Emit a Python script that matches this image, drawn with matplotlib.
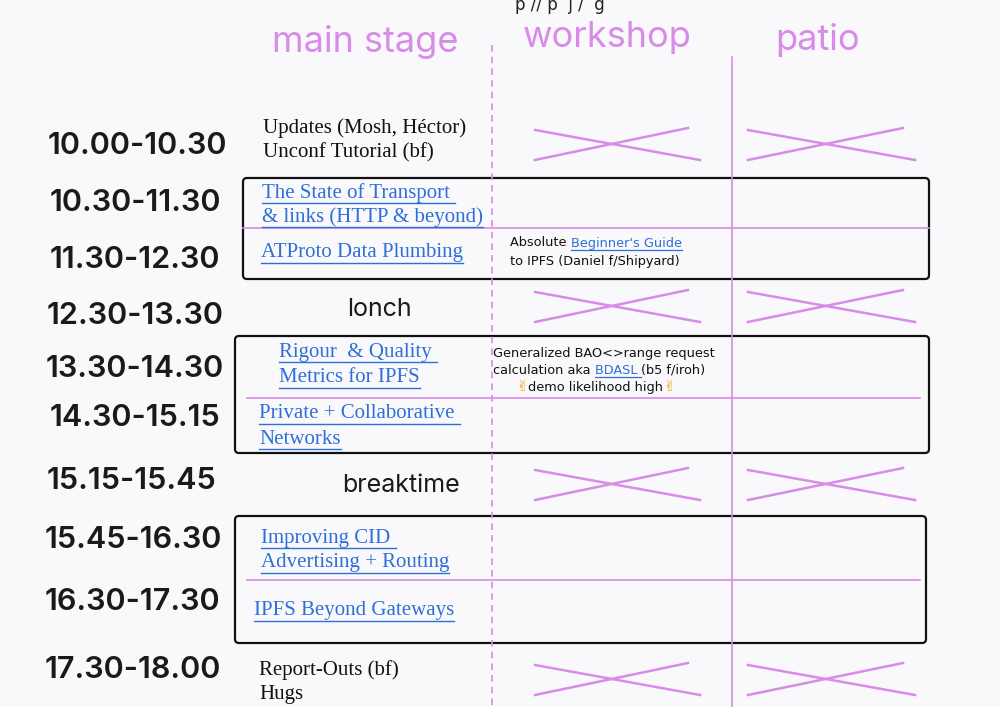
import matplotlib
matplotlib.use("Agg")
import matplotlib.pyplot as plt
from matplotlib.patches import FancyBboxPatch

PINK = "#d98be8"
BLUE = "#2f6fd8"

stages = ["main stage", "workshop", "patio"]
stage_x = [365, 607, 818]
stage_y = [42, 38, 40]

time_slots = ["10.00-10.30", "10.30-11.30", "11.30-12.30", "12.30-13.30", "13.30-14.30",
              "14.30-15.15", "15.15-15.45", "15.45-16.30", "16.30-17.30", "17.30-18.00"]
time_y = [146, 203, 260, 316, 369, 418, 481, 540, 602, 670]
time_x = [137, 135, 135, 135, 135, 135, 132, 133, 132, 133]

main_texts = [
    ("Updates (Mosh, Héctor)", 263, 128, False),
    ("Unconf Tutorial (bf)", 263, 153, False),
    ("The State of Transport ", 262, 193, True),
    ("& links (HTTP & beyond)", 262, 217, True),
    ("ATProto Data Plumbing", 261, 253, True),
    ("Rigour  & Quality ", 279, 352, True),
    ("Metrics for IPFS", 279, 378, True),
    ("Private + Collaborative ", 259, 414, True),
    ("Networks", 259, 439, True),
    ("Improving CID ", 261, 538, True),
    ("Advertising + Routing", 261, 563, True),
    ("IPFS Beyond Gateways", 254, 611, True),
    ("Report-Outs (bf)", 259, 670, False),
    ("Hugs", 259, 695, False),
]
breaks = [("lonch", 379, 310), ("breaktime", 401, 485)]

notes = [
    (510, 243, [("Absolute ", False), ("Beginner's Guide", True)]),
    (510, 261, [("to IPFS (Daniel f/Shipyard)", False)]),
    (493, 353, [("Generalized BAO<>range request", False)]),
    (493, 370, [("calculation aka ", False), ("BDASL ", True), ("(b5 f/iroh)", False)]),
    (516, 387, [("✌", "emoji"), ("demo likelihood high", False), ("✌", "emoji")]),
]

boxes = [(243, 178, 929, 279), (235, 336, 929, 453), (235, 516, 926, 643)]
pink_rules = [(243, 929, 228), (247, 920, 398), (247, 920, 580)]
cross_rows = [(130, 160), (292, 322), (470, 500), (665, 695)]
cross_cols = [(535, 700), (748, 915)]

fig = plt.figure(figsize=(10, 7.07), dpi=100)
ax = fig.add_axes([0, 0, 1, 1])
ax.set_xlim(0, 1000)
ax.set_ylim(707, 0)
ax.axis("off")
fig.patch.set_facecolor("#f9f9fb")
fig.canvas.draw()
renderer = fig.canvas.get_renderer()

def width_of(t):
    return t.get_window_extent(renderer).width

ax.text(560, 5, "p // p  j /  g", ha="center", va="center", fontsize=12, color="#222")

for s, x, y in zip(stages, stage_x, stage_y):
    ax.text(x, y, s, ha="center", va="center", fontsize=26, color=PINK, family="Inter")

ax.plot([492, 492], [45, 707], ls=(0, (4, 3)), color=PINK, lw=1.2)
ax.plot([732, 732], [57, 707], color=PINK, lw=1.2)

for t, x, y in zip(time_slots, time_x, time_y):
    ax.text(x, y, t, ha="center", va="center", fontsize=22, color="#1a1a1a",
            family="Inter", fontweight="semibold")

for (x0, y0, x1, y1) in boxes:
    ax.add_patch(FancyBboxPatch((x0, y0), x1 - x0, y1 - y0,
                                boxstyle="round,pad=0,rounding_size=4",
                                fill=False, ec="#111", lw=1.6))
for (x0, x1, y) in pink_rules:
    ax.plot([x0, x1], [y, y], color=PINK, lw=1.2)

for (y0, y1) in cross_rows:
    for (x0, x1) in cross_cols:
        ax.plot([x0, x1], [y0, y1], color=PINK, lw=1.8)
        ax.plot([x0, x1 - 12], [y1, y0 - 2], color=PINK, lw=1.8)

for txt, x, y, link in main_texts:
    t = ax.text(x, y, txt, ha="left", va="center", fontsize=15,
                family="Liberation Serif", color=BLUE if link else "#111")
    if link:
        ax.plot([x, x + width_of(t)], [y + 10, y + 10], color=BLUE, lw=1)

for txt, x, y in breaks:
    ax.text(x, y, txt, ha="center", va="center", fontsize=18, color="#1a1a1a", family="Inter")

for x, y, segs in notes:
    cx = x
    for seg, kind in segs:
        if kind == "emoji":
            t = ax.text(cx, y, seg, fontsize=10, color="#f0a020", ha="left", va="center",
                        family="DejaVu Sans", fontweight="bold")
        else:
            t = ax.text(cx, y, seg, fontsize=9.3, family="DejaVu Sans",
                        color=BLUE if kind else "#111", ha="left", va="center")
        w = width_of(t)
        if kind is True:
            ax.plot([cx, cx + w], [y + 7, y + 7], color=BLUE, lw=0.9)
        cx += w

fig.savefig("out.png", dpi=100, facecolor=fig.get_facecolor())
